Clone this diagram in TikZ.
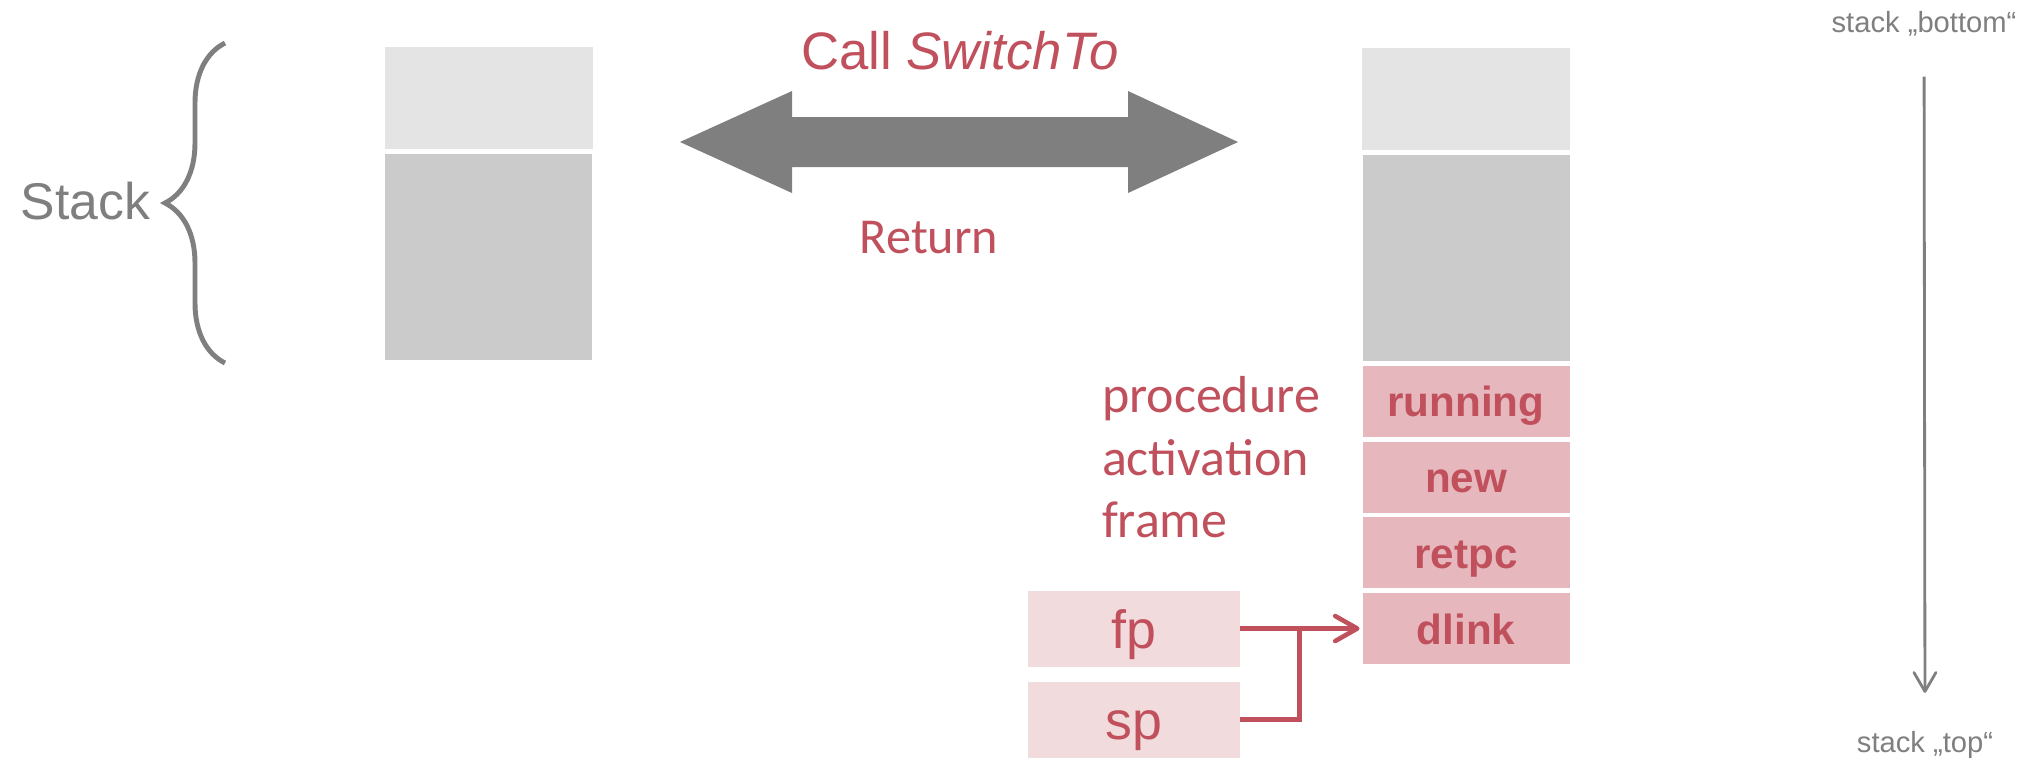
\documentclass[tikz,border=0pt]{standalone}
\usepackage{fontspec}
\setmainfont{Liberation Sans}
\newfontfamily\calfont{Carlito}
\usepackage{xcolor}
\usepackage{tikz}
\usetikzlibrary{positioning}
\usetikzlibrary{arrows.meta,decorations.pathreplacing}

\definecolor{frameRed}{RGB}{192,80,92}
\definecolor{framePink}{RGB}{230,184,189}
\definecolor{regPink}{RGB}{242,219,221}
\definecolor{stackLight}{RGB}{228,228,228}
\definecolor{stackDark}{RGB}{203,203,203}
\definecolor{arrowGray}{RGB}{127,127,127}

\begin{document}
\begin{tikzpicture}[node distance=0.047cm,inner sep=0pt,outer sep=0pt,
    >={Straight Barb[length=0.22cm,width=0.25cm,round]},
    lightbox/.style={fill=stackLight,minimum width=2.08cm,minimum height=1.02cm},
    darkbox/.style={fill=stackDark,minimum width=2.07cm,minimum height=2.065cm},
    framebox/.style={fill=framePink,minimum width=2.07cm,minimum height=0.71cm,
      text=frameRed,font=\fontsize{12}{14}\selectfont\bfseries,
      text height=0.31cm,text depth=0pt},
    regbox/.style={fill=regPink,minimum width=2.12cm,minimum height=0.76cm,
      text=frameRed,font=\fontsize{15.3}{18}\selectfont,
      text height=0.39cm,text depth=0pt},
    graylbl/.style={text=arrowGray,font=\fontsize{8.3}{10}\selectfont}]
   \useasboundingbox (0,0) rectangle (20.19,-7.58);

   % left stack
   \node[lightbox] (ltop) at (4.885,-0.98) {};
   \node[darkbox] (lmid) [below=of ltop] {};
   \coordinate (bracetop) at (2.25,-0.43);
   \coordinate (bracebot) at (2.25,-3.63);
   \draw[arrowGray,line width=1.4pt,decorate,decoration={brace,amplitude=0.6cm}]
     (bracebot) -- (bracetop);
   \node[text=arrowGray,font=\fontsize{14.7}{17}\selectfont,anchor=base east]
     (stacklbl) at (1.50,-2.19) {Stack};

   % switch arrow
   \fill[arrowGray] (6.80,-1.42) -- (7.92,-0.91) -- (7.92,-1.17) -- (11.28,-1.17)
     -- (11.28,-0.91) -- (12.38,-1.42) -- (11.28,-1.93) -- (11.28,-1.67)
     -- (7.92,-1.67) -- (7.92,-1.93) -- cycle;
   \node[text=frameRed,font=\fontsize{15}{18}\selectfont,anchor=base]
     (calllbl) at (9.60,-0.69) {Call \textit{SwitchTo}};
   \node[text=frameRed,font=\calfont\fontsize{14.3}{17}\selectfont,anchor=base]
     (retlbl) at (9.29,-2.53) {Return};

   % right stack
   \node[lightbox] (rtop) at (14.66,-0.99) {};
   \node[darkbox] (rmid) [below=of rtop] {};
   \node[framebox] (running) [below=of rmid] {running};
   \node[framebox] (new) [below=of running] {new};
   \node[framebox] (retpc) [below=of new] {retpc};
   \node[framebox] (dlink) [below=of retpc] {dlink};
   \node[text=frameRed,font=\calfont\fontsize{14.8}{17.9}\selectfont,align=left,
     anchor=north west] (paflbl) at (11.02,-3.76) {procedure\\activation\\frame};

   \node[regbox] (fp) [left=1.23cm of dlink] {fp};
   \node[regbox] (sp) [below=0.15cm of fp] {sp};
   \draw[->,frameRed,line width=1.3pt,shorten >=0.03cm] (fp) -- (dlink);
   \draw[frameRed,line width=1.3pt] (sp.east) -- ++(0.6,0) |- (fp.east);

   % direction of growth
   \node[graylbl,anchor=base] (botlbl) at (19.24,-0.32) {stack „bottom“};
   \node[graylbl,anchor=base] (toplbl) at (19.25,-7.52) {stack „top“};
   \draw[->,arrowGray,line width=0.8pt,>={Straight Barb[length=0.19cm,width=0.22cm,round]},
     shorten <=0.41cm,shorten >=0.38cm] (botlbl) -- (toplbl);
\end{tikzpicture}
\end{document}
